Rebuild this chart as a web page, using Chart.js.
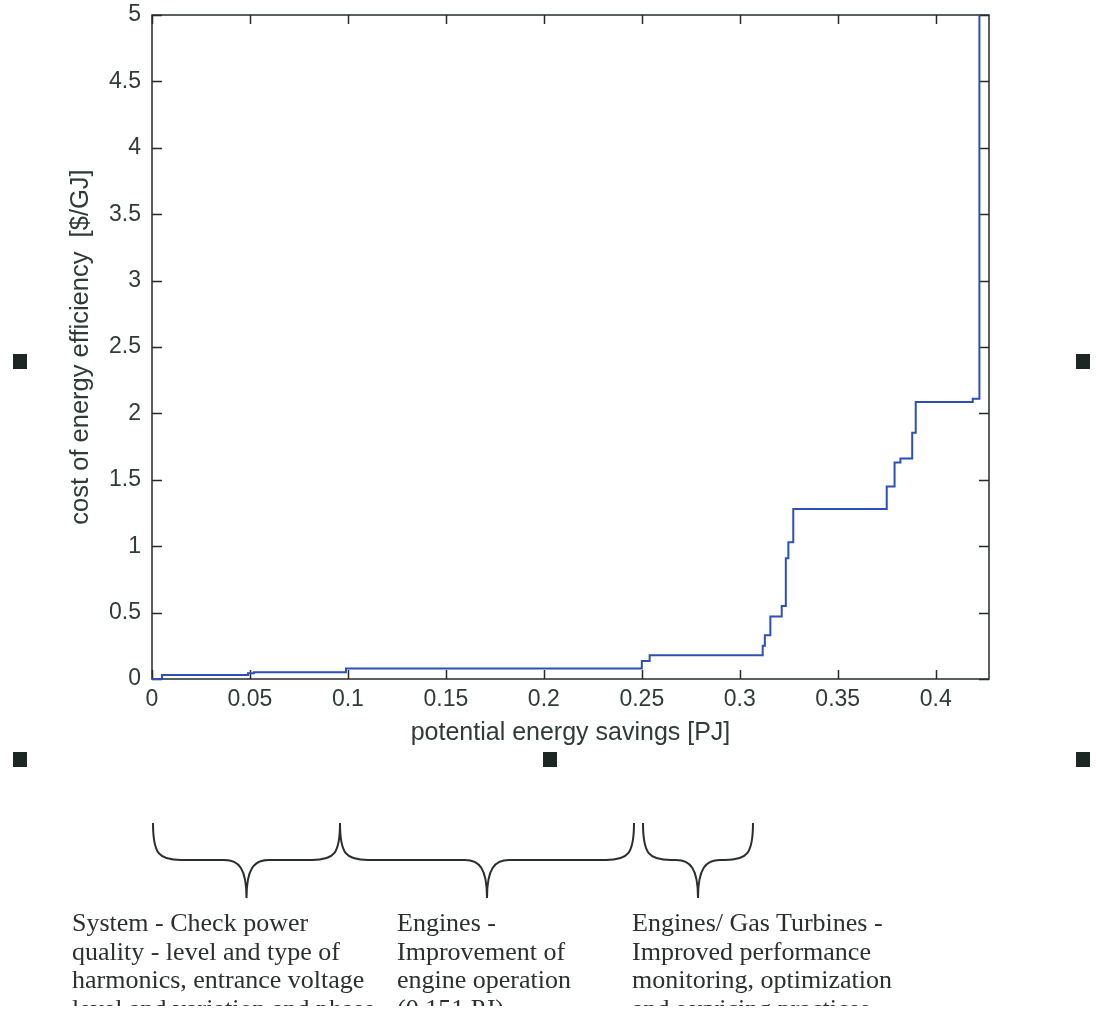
<!DOCTYPE html>
<html>
<head>
<meta charset="utf-8">
<script src="https://cdn.jsdelivr.net/npm/chart.js@4.4.1/dist/chart.umd.min.js"></script>
<style>
  html, body { margin: 0; padding: 0; background: #fff; }
  #page { position: relative; width: 1096px; height: 1019px; overflow: hidden; background: #fff; }
  #chartBox { position: absolute; left: 0; top: 0; width: 1096px; height: 770px; }
  .handle { position: absolute; width: 14px; height: 15px; background: #1c2622; }
  .note { position: absolute; top: 909px; height: 97px; overflow: hidden;
          font-family: "Liberation Serif", "Times New Roman", serif; font-size: 26px;
          line-height: 28.5px; color: #2b302e; white-space: nowrap; }
  svg { position: absolute; left: 0; top: 0; }
</style>
</head>
<body>
<div id="page">
  <div id="chartBox"><canvas id="myChart" width="1096" height="770"></canvas></div>

  <div class="handle" style="left:13px; top:354px"></div>
  <div class="handle" style="left:1076px; top:354px"></div>
  <div class="handle" style="left:13px; top:752px"></div>
  <div class="handle" style="left:543px; top:752px"></div>
  <div class="handle" style="left:1076px; top:752px"></div>

  <svg id="braces" width="1096" height="1019"></svg>

  <div class="note" style="left:72px">System - Check power<br>quality - level and type of<br>harmonics, entrance voltage<br>level and variation and phase</div>
  <div class="note" style="left:397px">Engines -<br>Improvement of<br>engine operation<br>(0.151 PJ)</div>
  <div class="note" style="left:632px">Engines/ Gas Turbines -<br>Improved performance<br>monitoring, optimization<br>and servicing practices</div>
</div>

<script>
// step points: at each x the cost jumps to the new level
const savingsPJ = [0, 0.0051, 0.049, 0.052, 0.099, 0.25, 0.254, 0.3117, 0.3128, 0.3156, 0.3214, 0.3235, 0.3248, 0.3273, 0.375, 0.379, 0.382, 0.388, 0.3898, 0.4189, 0.4223];
const costPerGJ = [0, 0.03, 0.043, 0.05, 0.08, 0.135, 0.178, 0.25, 0.33, 0.47, 0.55, 0.91, 1.03, 1.28, 1.45, 1.63, 1.66, 1.855, 2.085, 2.11, 6];

const xTicks = [0, 0.05, 0.1, 0.15, 0.2, 0.25, 0.3, 0.35, 0.4];
const yTicks = [0, 0.5, 1, 1.5, 2, 2.5, 3, 3.5, 4, 4.5, 5];

// brace spans along the bottom [left, right] in px
const braceSpans = [[153, 340], [340, 634], [643, 753]];

const textColor = '#303b36';
const axisColor = '#262b29';

const points = savingsPJ.map((x, i) => ({ x: x, y: costPerGJ[i] }));

// box around the plot with inward ticks on all four sides
const frame = {
  id: 'frame',
  beforeDatasetsDraw(chart) {
    const { ctx, chartArea: a, scales } = chart;
    ctx.save();
    ctx.strokeStyle = axisColor;
    ctx.lineWidth = 1.5;
    ctx.strokeRect(a.left, a.top, a.right - a.left, a.bottom - a.top);
    ctx.beginPath();
    xTicks.forEach(v => {
      const px = Math.round(scales.x.getPixelForValue(v)) + 0.5;
      ctx.moveTo(px, a.bottom); ctx.lineTo(px, a.bottom - 9);
      ctx.moveTo(px, a.top); ctx.lineTo(px, a.top + 9);
    });
    yTicks.forEach(v => {
      const py = Math.round(scales.y.getPixelForValue(v)) + 0.5;
      ctx.moveTo(a.left, py); ctx.lineTo(a.left + 10, py);
      ctx.moveTo(a.right, py); ctx.lineTo(a.right - 10, py);
    });
    ctx.stroke();
    ctx.restore();
  }
};

const ctx = document.getElementById('myChart');
new Chart(ctx, {
  type: 'line',
  data: {
    datasets: [{
      data: points,
      stepped: true,
      borderColor: '#2d50b4',
      borderWidth: 2,
      pointRadius: 0,
      fill: false,
      clip: { left: 3, right: 3, top: 0, bottom: 3 }
    }]
  },
  options: {
    responsive: false,
    animation: false,
    layout: { padding: { top: 15, right: 107, left: 0, bottom: 0 } },
    plugins: { legend: { display: false }, tooltip: { enabled: false } },
    scales: {
      x: {
        type: 'linear',
        min: 0,
        max: 0.4272,
        afterFit(s) { s.height = 91; s.paddingLeft = 0; s.paddingRight = 0; },
        afterBuildTicks(s) { s.ticks = xTicks.map(v => ({ value: v })); },
        grid: { display: false, drawTicks: false },
        border: { display: false },
        ticks: {
          padding: 7,
          color: textColor,
          font: { family: '"Liberation Sans", Arial, sans-serif', size: 23 },
          callback: v => String(Number(v.toFixed(2)))
        },
        title: {
          display: true,
          text: 'potential energy savings [PJ]',
          color: textColor,
          font: { family: '"Liberation Sans", Arial, sans-serif', size: 25 },
          padding: { top: 0, bottom: 22 }
        }
      },
      y: {
        min: 0,
        max: 5,
        afterFit(s) { s.width = 152; s.paddingTop = 0; s.paddingBottom = 0; },
        afterBuildTicks(s) { s.ticks = yTicks.map(v => ({ value: v })); },
        grid: { display: false, drawTicks: false },
        border: { display: false },
        ticks: {
          padding: 11,
          color: textColor,
          font: { family: '"Liberation Sans", Arial, sans-serif', size: 23 },
          callback: v => String(Number(v.toFixed(2)))
        },
        title: {
          display: true,
          text: 'cost of energy efficiency  [$/GJ]',
          color: textColor,
          font: { family: '"Liberation Sans", Arial, sans-serif', size: 25.5 },
          padding: { top: 66, bottom: 0 }
        }
      }
    }
  },
  plugins: [frame]
});

// curly braces below the chart
const svg = document.getElementById('braces');
const y0 = 823, y1 = 860, y2 = 898;
braceSpans.forEach(([x0, x1]) => {
  const cx = (x0 + x1) / 2;
  const d = `M ${x0} ${y0} C ${x0} ${y1 - 6}, ${x0 + 6} ${y1}, ${x0 + 28} ${y1} ` +
            `L ${cx - 22} ${y1} C ${cx - 8} ${y1}, ${cx} ${y1 + 8}, ${cx} ${y2} ` +
            `C ${cx} ${y1 + 8}, ${cx + 8} ${y1}, ${cx + 22} ${y1} ` +
            `L ${x1 - 28} ${y1} C ${x1 - 6} ${y1}, ${x1} ${y1 - 6}, ${x1} ${y0}`;
  const p = document.createElementNS('http://www.w3.org/2000/svg', 'path');
  p.setAttribute('d', d);
  p.setAttribute('fill', 'none');
  p.setAttribute('stroke', '#2a2e2c');
  p.setAttribute('stroke-width', '2');
  svg.appendChild(p);
});
</script>
</body>
</html>
